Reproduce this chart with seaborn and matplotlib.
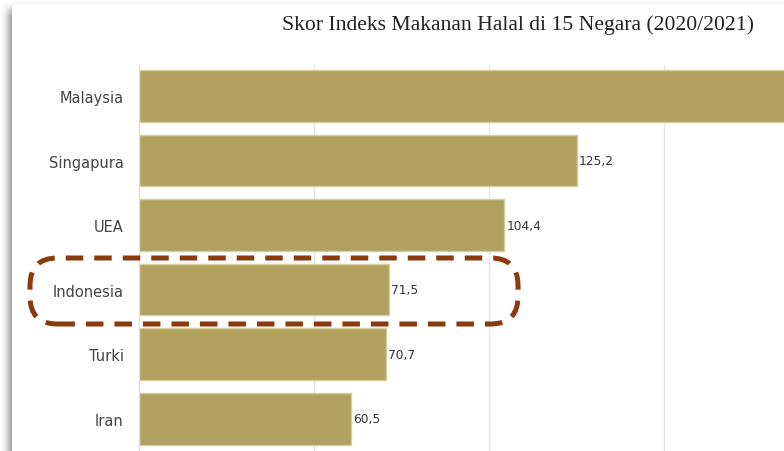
import matplotlib
matplotlib.use("Agg")
import matplotlib.pyplot as plt
import numpy as np
import pandas as pd
import seaborn as sns
from matplotlib.patches import FancyBboxPatch

countries = ["Malaysia", "Singapura", "UEA", "Indonesia", "Turki", "Iran"]
scores = [209.8, 125.2, 104.4, 71.5, 70.7, 60.5]
title = "Skor Indeks Makanan Halal di 15 Negara (2020/2021)"

df = pd.DataFrame({"Negara": countries, "Skor": scores})

sns.set_style("white")
plt.rcParams["font.family"] = ["DejaVu Sans"]

W, H = 784, 452
fig = plt.figure(figsize=(W / 100, H / 100), dpi=100)
fig.patch.set_facecolor("white")

# left shadow of the card
sh = fig.add_axes([0, 0, 12 / W, 1])
grad = np.linspace(0, 1, 40) ** 1.6
img = np.tile(grad, (H, 1))
fade = np.clip((np.arange(H) - 3) / 14, 0, 1)[:, None]
img = img * fade
sh.imshow(1 - 0.38 * img, cmap="gray", vmin=0, vmax=1, aspect="auto",
          extent=[0, 1, 0, 1], origin="upper")
sh.axis("off")
fig.add_artist(plt.Line2D([12 / W, 1], [1 - 3.5 / H, 1 - 3.5 / H],
                          color="#f3f3f3", lw=1, transform=fig.transFigure))

ax = fig.add_axes([139 / W, 0, (W - 139) / W, (H - 66) / H])
sns.barplot(data=df, y="Negara", x="Skor", orient="h", color="#b0a25e",
            saturation=1, width=0.8, edgecolor="#d6cc9c", linewidth=1,
            ax=ax)

ax.set_xlim(0, 184.4)
ax.set_ylim(5.5, -0.48)
ax.set_xticks([50, 100, 150])
ax.set_xticklabels([])
ax.tick_params(axis="x", length=0)
ax.grid(axis="x", color="#e6e6e6", lw=1)
ax.set_axisbelow(True)
ax.set_xlabel("")
ax.set_ylabel("")
ax.tick_params(axis="y", length=6, width=0.8, color="#cccccc",
               labelsize=10.5, labelcolor="#444444", pad=5)
for s in ["top", "right", "bottom"]:
    ax.spines[s].set_visible(False)
ax.spines["left"].set_color("#dddddd")
ax.spines["left"].set_linewidth(1)

for i, v in enumerate(scores):
    if i == 0:
        continue
    ax.text(v + 0.6, i, f"{v:.1f}".replace(".", ","), va="center",
            ha="left", fontsize=8.8, color="#333333")

fig.text(518 / W, 1 - 25 / H, title, ha="center", va="center",
         fontsize=15.6, color="#222222", family="Liberation Serif")

# dashed highlight around Indonesia
box = FancyBboxPatch((30 / W, 1 - 325 / H), (518 - 30) / W, (325 - 259) / H,
                     boxstyle="round,pad=0,rounding_size=0.035",
                     mutation_aspect=W / H,
                     transform=fig.transFigure, fill=False,
                     edgecolor="#8a3a0c", lw=3.6, linestyle=(0, (3.5, 2.2)),
                     zorder=10)
fig.add_artist(box)

fig.savefig("out.png", dpi=100)
